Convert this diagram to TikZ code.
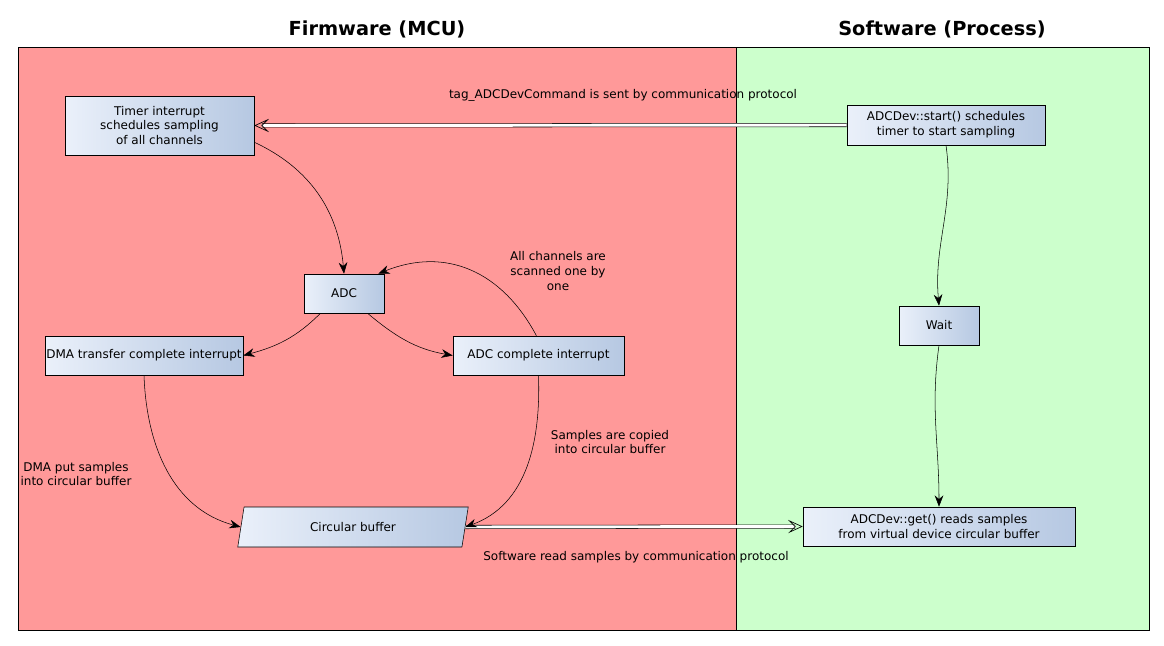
\documentclass[tikz,border=0pt]{standalone}
\usepackage{fontspec}
\setmainfont{DejaVu Sans}
\usepackage{xcolor}
\usetikzlibrary{arrows.meta, shapes.geometric, positioning}

\definecolor{fwred}{RGB}{255,153,153}
\definecolor{swgreen}{RGB}{204,255,204}
\definecolor{boxleft}{RGB}{234,240,250}
\definecolor{boxright}{RGB}{182,200,226}

\tikzset{
    box/.style={draw, left color=boxleft, right color=boxright, align=center, inner sep=0pt, font=\fontsize{9}{11}\selectfont},
    note/.style={align=center, font=\fontsize{9}{11}\selectfont},
    title/.style={font=\fontsize{14.5}{16}\selectfont\bfseries},
    flow/.style={-{Stealth[length=8.5pt, width=6.5pt]}, thin},
    link/.style={double, double distance=2.2pt, -{Stealth[open, length=11pt, width=10pt, inset=5pt, line width=0.5pt]}, thin}
}

\begin{document}
\begin{tikzpicture}[x=0.75pt, y=-0.75pt]
                        \useasboundingbox (0, 0) rectangle (1164, 646);
                        \draw[fill=fwred] (18, 47) rectangle (736, 630);
                        \draw[fill=swgreen] (736, 47) rectangle (1149, 630);
                        \node[title] (fw) at (377, 29) {Firmware (MCU)};
                        \node[title] (sw) at (942, 29) {Software (Process)};

                        \node[box, minimum width=141.75pt, minimum height=44.25pt] (timer) at (159.5, 125.5) {Timer interrupt\\schedules sampling\\ of all channels};
                        \node[box, minimum width=148.5pt, minimum height=30pt] (start) at (946, 125) {ADCDev::start() schedules\\timer to start sampling};
                        \node[box, minimum width=60pt, minimum height=29.25pt] (adc) at (344, 293.5) {ADC};
                        \node[box, minimum width=148.5pt, minimum height=29.25pt] (dma) at (144, 355.5) {DMA transfer complete interrupt};
                        \node[box, minimum width=128.25pt, minimum height=29.25pt] (done) at (538.5, 355.5) {ADC complete interrupt};
                        \node[box, minimum width=60pt, minimum height=29.25pt] (wait) at (939, 325.5) {Wait};
                        \node[box, trapezium, trapezium left angle=75, trapezium right angle=105, trapezium stretches=true, minimum width=174pt, minimum height=30pt] (buffer) at (353, 527) {Circular buffer};
                        \node[box, minimum width=204pt, minimum height=29.25pt] (get) at (939, 526.5) {ADCDev::get() reads samples\\from virtual device circular buffer};

                        \node[note] (sent) at (623, 95) {tag\_ADCDevCommand is sent by communication protocol};
                        \node[note] (scan) at (558, 271) {All channels are\\scanned one by\\one};
                        \node[note] (copy) at (610, 442) {Samples are copied\\ into circular buffer};
                        \node[note] (put) at (76, 474) {DMA put samples\\into circular buffer};
                        \node[note] (read) at (636, 557) {Software read samples by communication protocol};

                        \draw[link] (start.west) -- (timer.east);
                        \draw[link] (buffer.east) -- (get.west);

                        \draw
                        (timer.-10) edge[flow, out=-25, in=95] (adc.north)
                        (adc.-140) edge[flow, out=-135, in=15] (dma.east)
                        (adc.-40) edge[flow, out=-40, in=170] (done.west)
                        (done.96) edge[flow, out=118, in=22, looseness=1.1] (adc.30)
                        (dma.south) edge[flow, out=-88, in=165] (buffer.west)
                        (done.south) edge[flow, out=-88, in=20] (buffer.east)
                        (start.south) edge[flow, out=-82, in=95] (wait.north)
                        (wait.south) edge[flow, out=-98, in=90] (get.north);
                    \end{tikzpicture}
\end{document}
